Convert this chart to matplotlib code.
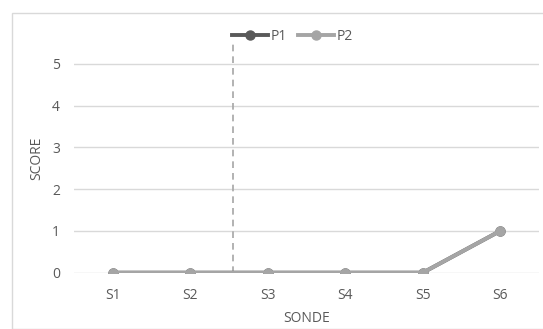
import matplotlib.pyplot as plt
from matplotlib.patches import Rectangle

plt.rcParams['font.family'] = ['Open Sans', 'DejaVu Sans']

sondes = ["S1", "S2", "S3", "S4", "S5", "S6"]
p1 = [0, 0, 0, 0, 0, 1]
p2 = [0, 0, 0, 0, 0, 1]
split_pos = 1.55
split_top = 5.5

W, H = 543, 329
fig = plt.figure(figsize=(W / 100, H / 100), dpi=100)

# light chart-area frame
fig.patches.append(Rectangle((12 / W, 0), 1, 1 - 13 / H, transform=fig.transFigure,
                             fill=False, edgecolor="#d9d9d9", linewidth=1.0))

ax = fig.add_axes([74 / W, 1 - 272.7 / H, (539 - 74) / W, (272.7 - 43) / H])
x = list(range(len(sondes)))

ax.plot(x, p1, color="#595959", lw=2.8, marker="o", ms=6.5, label="P1", zorder=3)
ax.plot(x, p2, color="#a5a5a5", lw=2.8, marker="o", ms=6.5, label="P2", zorder=4)
ax.plot([split_pos, split_pos], [0, split_top], color="#a6a6a6", lw=1.2,
        ls=(0, (4, 3)), zorder=2)

ax.set_xlim(-0.5, len(sondes) - 0.5)
ax.set_ylim(0, 5.5)
ax.set_yticks(range(6))
ax.set_xticks(x)
ax.set_xticklabels(sondes)
ax.grid(axis="y", color="#d9d9d9", lw=1)
ax.set_axisbelow(True)
for s in ax.spines.values():
    s.set_visible(False)
ax.tick_params(length=0, colors="#595959", labelsize=10, pad=11)
ax.tick_params(axis="y", pad=10)

ax.set_xlabel("SONDE", color="#595959", fontsize=10, labelpad=6)
ax.set_ylabel("SCORE", color="#595959", fontsize=10, labelpad=6)

ax.legend(loc="upper center", bbox_to_anchor=(0.47, 1.085), ncol=2, frameon=False,
          fontsize=10, labelcolor="#595959", handlelength=2.6, columnspacing=0.8,
          handletextpad=0.2, borderaxespad=0)

fig.savefig("out.png", dpi=100)
